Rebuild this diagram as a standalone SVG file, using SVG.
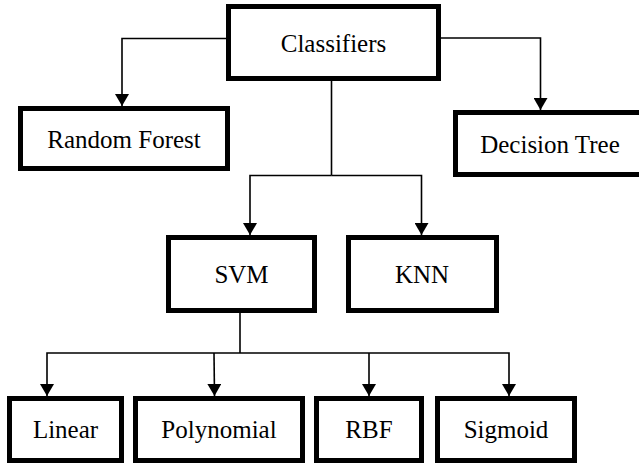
<svg xmlns="http://www.w3.org/2000/svg" width="639" height="465" viewBox="0 0 639 465">
  <style>
    .box { fill: #ffffff; stroke: #000000; stroke-width: 5; }
    .lbl { font-family: 'Liberation Serif', 'Times New Roman', Times, 'DejaVu Serif', serif; font-size: 25px; fill: #000000; text-anchor: middle; }
    .conn { fill: none; stroke: #000000; stroke-width: 1.6; }
  </style>
  <defs>
    <marker id="arr" viewBox="0 0 12 14" refX="12" refY="7" markerWidth="12" markerHeight="14" markerUnits="userSpaceOnUse" orient="auto">
      <path d="M0,0 L12,7 L0,14 z" fill="#000000"/>
    </marker>
  </defs>
  <rect width="639" height="465" fill="#ffffff"/>
  <g id="connectors">
    <polyline class="conn" points="226,38.5 122,38.5 122,106" marker-end="url(#arr)"/>
    <polyline class="conn" points="441,38 540.5,38 540.5,110" marker-end="url(#arr)"/>
    <line class="conn" x1="331.5" y1="81" x2="331.5" y2="175.5"/>
    <polyline class="conn" points="331.5,175.5 250,175.5 250,235" marker-end="url(#arr)"/>
    <polyline class="conn" points="331.5,175.5 421.5,175.5 421.5,235" marker-end="url(#arr)"/>
    <line class="conn" x1="240" y1="313" x2="240" y2="353"/>
    <polyline class="conn" points="240,353 47,353 47,396" marker-end="url(#arr)"/>
    <polyline class="conn" points="214,353 214.5,396" marker-end="url(#arr)"/>
    <polyline class="conn" points="240,353 509,353 509,396" marker-end="url(#arr)"/>
    <polyline class="conn" points="369,353 369,396" marker-end="url(#arr)"/>
  </g>
  <g id="classifiers">
    <rect class="box" x="228.5" y="6.5" width="210" height="72"/>
    <text class="lbl" font-family="Liberation Serif, serif" x="333.5" y="51.5">Classifiers</text>
  </g>
  <g id="random-forest">
    <rect class="box" x="20.5" y="108.5" width="207" height="60"/>
    <text class="lbl" font-family="Liberation Serif, serif" x="124" y="147.5">Random Forest</text>
  </g>
  <g id="decision-tree">
    <rect class="box" x="455.5" y="112.5" width="187" height="62"/>
    <text class="lbl" font-family="Liberation Serif, serif" x="550" y="152.5">Decision Tree</text>
  </g>
  <g id="svm">
    <rect class="box" x="168.5" y="237.5" width="146" height="73"/>
    <text class="lbl" font-family="Liberation Serif, serif" x="241.5" y="283">SVM</text>
  </g>
  <g id="knn">
    <rect class="box" x="348.5" y="237.5" width="148" height="73"/>
    <text class="lbl" font-family="Liberation Serif, serif" x="422" y="283">KNN</text>
  </g>
  <g id="linear">
    <rect class="box" x="9.5" y="398.5" width="112" height="62"/>
    <text class="lbl" font-family="Liberation Serif, serif" x="65.5" y="438">Linear</text>
  </g>
  <g id="polynomial">
    <rect class="box" x="135.5" y="398.5" width="167" height="62"/>
    <text class="lbl" font-family="Liberation Serif, serif" x="219" y="438">Polynomial</text>
  </g>
  <g id="rbf">
    <rect class="box" x="316.5" y="398.5" width="105" height="62"/>
    <text class="lbl" font-family="Liberation Serif, serif" x="369" y="438">RBF</text>
  </g>
  <g id="sigmoid">
    <rect class="box" x="437.5" y="398.5" width="137" height="62"/>
    <text class="lbl" font-family="Liberation Serif, serif" x="506" y="438">Sigmoid</text>
  </g>
</svg>
